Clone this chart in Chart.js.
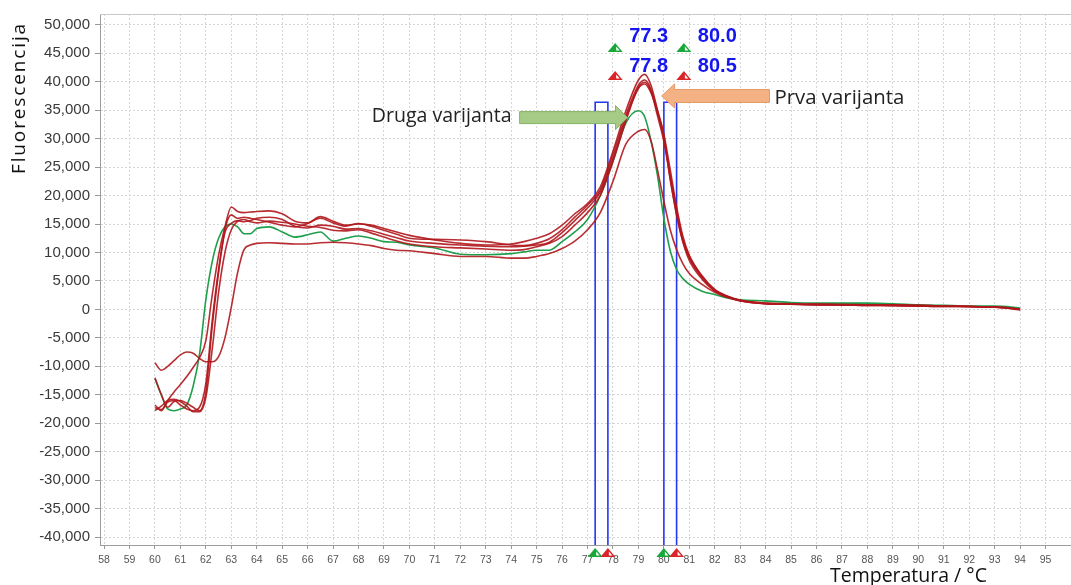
<!DOCTYPE html>
<html lang="hr">
<head>
  <meta charset="UTF-8">
  <title>Krivulje taljenja</title>
  <script src="https://cdn.jsdelivr.net/npm/chart.js"></script>
  <style>
    html, body {
      margin: 0;
      padding: 0;
      background: #fff;
    }
    .wrap {
      position: relative;
      width: 1071px;
      height: 585px;
    }
  </style>
</head>
<body>
  <div class="wrap"><canvas id="melt"></canvas></div>
  <script>
    // temperature points (°C), shared by all curves
    const temps = [
      60, 60.25, 60.5, 60.75, 61, 61.25, 61.5, 61.75,
      62, 62.25, 62.5, 62.75, 63, 63.25, 63.5, 63.75,
      64, 64.5, 65, 65.5, 66, 66.5, 67, 67.5,
      68, 68.5, 69, 69.5, 70, 71, 72, 73,
      74, 74.5, 75, 75.5, 76, 76.5, 77, 77.5,
      78, 78.5, 79, 79.25, 79.5, 79.75, 80, 80.25,
      80.5, 80.75, 81, 81.5, 82, 82.5, 83, 84,
      85, 86, 87, 88, 89, 90, 91, 92,
      93, 93.5, 94
    ];

    // fluorescence of each sample
    const red1 = [
      -16800, -17800, -16000, -14500, -13200, -11800, -10200, -8500,
      -5500, 2500, 9500, 14500, 18000, 17200, 17000, 17100,
      17200, 17300, 16800, 15500, 15200, 16300, 15500, 14800,
      15000, 14800, 14200, 13600, 13000, 12200, 11600, 11300,
      11500, 11900, 12500, 13300, 14800, 16800, 18600, 21500,
      27800, 34800, 40300, 41300, 39300, 35000, 30500, 22800,
      16800, 11900, 9000, 5600, 3300, 2200, 1500, 1000,
      900, 900, 800, 800, 700, 600, 600, 500,
      400, 300, 0
    ];
    const red2 = [
      -12000, -15000, -17200, -16200, -16000, -16500, -17200, -17800,
      -14500, -3000, 6500, 14000, 16600, 16000, 16200, 16000,
      15800, 15300, 14800, 14500, 15100, 16000, 15200, 14600,
      15100, 14600, 13900, 13200, 12500, 12300, 12200, 11900,
      11300, 11200, 11600, 12400, 14000, 16200, 18300, 21000,
      27200, 34000, 39400, 40300, 38600, 34600, 30000, 23500,
      17500, 12300, 9300, 5800, 3400, 2300, 1600, 1100,
      900, 900, 800, 800, 700, 700, 600, 500,
      400, 300, 0
    ];
    const red3 = [
      -17300, -17600, -16300, -16000, -16800, -17500, -17800, -17200,
      -13000, -2000, 7000, 13500, 15100, 15600, 15400, 15600,
      16000, 16200, 15800, 14600, 14300, 14800, 14600, 14100,
      14200, 13800, 13200, 12600, 12000, 11600, 11300, 11100,
      11000, 11100, 11300, 11800, 13500, 15600, 17800, 20600,
      26500, 33500, 38800, 39600, 38000, 34800, 30800, 24500,
      18000, 12800, 9500, 5900, 3500, 2300, 1600, 1100,
      1000, 900, 900, 800, 800, 700, 600, 500,
      400, 300, 0
    ];
    const red4 = [
      -17800, -17000, -16000, -15800, -16200, -17000, -18000, -18000,
      -15500, -7000, 3000, 10000, 14000, 15500, 15800, 15400,
      15200, 15500, 15300, 15000, 14600, 14400, 13900, 13800,
      14000, 13400, 12700, 12000, 11500, 11000, 10800, 10600,
      10400, 10500, 11000, 11600, 12800, 14800, 17000, 20000,
      26000, 33000, 39000, 39900, 38200, 34000, 29500, 23000,
      16500, 11800, 8600, 5300, 3200, 2200, 1500, 1000,
      900, 800, 800, 700, 700, 600, 500, 500,
      400, 200, -100
    ];
    const red5 = [
      -9400, -10700, -10000, -9000, -8000, -7500, -7700, -8600,
      -9200, -9200, -8300, -5000, 400, 6500, 10500, 11300,
      11600, 11700, 11600, 11500, 11500, 11700, 11800, 11700,
      11500, 11200, 10700, 10400, 10300, 9800, 9300, 9300,
      9000, 9000, 9300, 9800, 10700, 12000, 14000, 17000,
      22500, 29000, 31300, 31600, 29500, 24500, 19000, 14000,
      10500, 8000, 6300, 4400, 3000, 2100, 1500, 1000,
      900, 800, 800, 700, 700, 600, 500, 500,
      400, 300, 0
    ];
    const green1 = [
      -12200, -15000, -17500, -17800, -17500, -16800, -13500, -7900,
      1700, 8400, 12500, 14500, 15000, 14500, 13300, 13300,
      14200, 14500, 13600, 12700, 13100, 13600, 12000, 12500,
      12900, 12500, 11900, 11800, 11300, 10800, 9700, 9600,
      9800, 10100, 10400, 10400, 11900, 13600, 15800, 20000,
      26000, 32700, 34900, 33800, 29500, 23500, 16000, 10300,
      7000, 5400, 4400, 3200, 2600, 2000, 1700, 1500,
      1200, 1100, 1100, 1100, 1000, 800, 700, 600,
      600, 500, 200
    ];

    // melt peak markers (low / high edge of each window)
    const markerLow = [77.3, 80.0];
    const markerHigh = [77.8, 80.5];
    const markerTop = 36400;

    const xTicks = [58, 59, 60, 61, 62, 63, 64, 65, 66, 67, 68, 69, 70, 71, 72, 73, 74, 75, 76,
                    77, 78, 79, 80, 81, 82, 83, 84, 85, 86, 87, 88, 89, 90, 91, 92, 93, 94, 95];
    const yTicks = [-40000, -35000, -30000, -25000, -20000, -15000, -10000, -5000, 0,
                    5000, 10000, 15000, 20000, 25000, 30000, 35000, 40000, 45000, 50000];

    const xMin = 57.84, xMax = 96;
    const yMin = -41400, yMax = 51900;

    const RED = 'rgba(176, 22, 28, 0.9)';
    const GREEN = '#1f9e4c';
    const BLUE = '#2337f2';

    function series(values) {
      return temps.map((t, i) => ({ x: t, y: values[i] }));
    }

    function curve(values, color) {
      return {
        data: series(values),
        borderColor: color,
        borderWidth: 1.6,
        pointRadius: 0,
        cubicInterpolationMode: 'monotone',
        fill: false
      };
    }

    function windowBox(i) {
      return {
        data: [
          { x: markerLow[i], y: yMin },
          { x: markerLow[i], y: markerTop },
          { x: markerHigh[i], y: markerTop },
          { x: markerHigh[i], y: yMin }
        ],
        borderColor: BLUE,
        borderWidth: 1.6,
        pointRadius: 0,
        tension: 0,
        fill: false
      };
    }

    // annotation anchors (data units)
    const arrows = {
      druga: { from: 74.33, to: 78.57, at: 33700, fill: '#a5cb86', stroke: '#86b466', text: 'Druga varijanta' },
      prva: { from: 84.15, to: 79.91, at: 37500, fill: '#f4b183', stroke: '#e59a68', text: 'Prva varijanta' }
    };

    function fitSize(ctx, text, family, width, weight) {
      ctx.font = (weight || '') + ' 20px ' + family;
      return 20 * width / ctx.measureText(text).width;
    }

    // fixed size, stretch with letter spacing to the wanted width
    function spaced(ctx, text, size, family, width) {
      ctx.font = size + 'px ' + family;
      ctx.letterSpacing = '0px';
      const w = ctx.measureText(text).width;
      ctx.letterSpacing = Math.max(0, (width - w) / text.length) + 'px';
    }

    function marker(ctx, cx, baseY, w, h, color) {
      ctx.beginPath();
      ctx.moveTo(cx - w / 2, baseY);
      ctx.lineTo(cx + w / 2, baseY);
      ctx.lineTo(cx, baseY - h);
      ctx.closePath();
      ctx.fillStyle = color;
      ctx.fill();
      ctx.beginPath();
      ctx.moveTo(cx + 1, baseY - 1.5);
      ctx.lineTo(cx + w / 2 - 3, baseY - 1.5);
      ctx.lineTo(cx + 1, baseY - h + 3.5);
      ctx.closePath();
      ctx.fillStyle = '#fff';
      ctx.fill();
    }

    function arrow(ctx, tailX, tipX, cy, bodyHalf, headHalf, headLen, fill, stroke) {
      const dir = Math.sign(tipX - tailX);
      const baseX = tipX - dir * headLen;
      ctx.beginPath();
      ctx.moveTo(tailX, cy - bodyHalf);
      ctx.lineTo(baseX, cy - bodyHalf);
      ctx.lineTo(baseX, cy - headHalf);
      ctx.lineTo(tipX, cy);
      ctx.lineTo(baseX, cy + headHalf);
      ctx.lineTo(baseX, cy + bodyHalf);
      ctx.lineTo(tailX, cy + bodyHalf);
      ctx.closePath();
      ctx.fillStyle = fill;
      ctx.fill();
      ctx.strokeStyle = stroke;
      ctx.lineWidth = 1;
      ctx.stroke();
    }

    const meltNotes = {
      id: 'meltNotes',
      afterDraw(chart) {
        const { ctx, chartArea: area, scales: { x, y } } = chart;
        ctx.save();

        // top frame
        ctx.strokeStyle = '#c8c8c8';
        ctx.lineWidth = 1;
        ctx.beginPath();
        ctx.moveTo(area.left, area.top + 0.5);
        ctx.lineTo(area.right, area.top + 0.5);
        ctx.stroke();

        // peak window labels and handles
        markerLow.forEach((lo, i) => {
          const hi = markerHigh[i];
          const cx = x.getPixelForValue(lo) + 20;
          marker(ctx, cx, 52, 15, 9, '#18a83a');
          marker(ctx, cx, 80, 15, 9, '#d9242a');
          ctx.fillStyle = '#1515f0';
          ctx.font = 'bold 20px "Liberation Sans"';
          ctx.textAlign = 'left';
          ctx.textBaseline = 'alphabetic';
          ctx.fillText(lo.toFixed(1), cx + 14, 42);
          ctx.fillText(hi.toFixed(1), cx + 14, 72);
          marker(ctx, x.getPixelForValue(lo), area.bottom + 12, 15, 9, '#18a83a');
          marker(ctx, x.getPixelForValue(hi), area.bottom + 12, 15, 9, '#d9242a');
        });

        // arrows with their captions
        const family = '"Open Sans"';
        const d = arrows.druga;
        const dTail = x.getPixelForValue(d.from);
        const dY = y.getPixelForValue(d.at);
        arrow(ctx, dTail, x.getPixelForValue(d.to), dY, 6, 12, 12, d.fill, d.stroke);
        ctx.fillStyle = '#222';
        ctx.font = fitSize(ctx, d.text, family, 140) + 'px ' + family;
        ctx.textAlign = 'right';
        ctx.textBaseline = 'middle';
        ctx.fillText(d.text, dTail - 8, dY - 1);

        const p = arrows.prva;
        const pTail = x.getPixelForValue(p.from);
        const pY = y.getPixelForValue(p.at);
        arrow(ctx, pTail, x.getPixelForValue(p.to), pY, 6.5, 12, 13, p.fill, p.stroke);
        ctx.fillStyle = '#222';
        ctx.font = fitSize(ctx, p.text, family, 130) + 'px ' + family;
        ctx.textAlign = 'left';
        ctx.fillText(p.text, pTail + 5, pY + 2);

        // axis titles
        ctx.fillStyle = '#111';
        ctx.font = fitSize(ctx, 'Temperatura / °C', family, 157) + 'px ' + family;
        ctx.textAlign = 'left';
        ctx.textBaseline = 'alphabetic';
        ctx.fillText('Temperatura / °C', 830, 582);

        ctx.translate(25, 98);
        ctx.rotate(-Math.PI / 2);
        spaced(ctx, 'Fluorescencija', 19, family, 152);
        ctx.textAlign = 'center';
        ctx.fillText('Fluorescencija', 0, 0);
        ctx.letterSpacing = '0px';

        ctx.restore();
      }
    };

    new Chart(document.getElementById('melt'), {
      type: 'line',
      data: {
        datasets: [
          curve(red1, RED),
          curve(red2, RED),
          curve(red3, RED),
          curve(red4, RED),
          curve(red5, RED),
          curve(green1, GREEN),
          windowBox(0),
          windowBox(1)
        ]
      },
      options: {
        responsive: true,
        maintainAspectRatio: false,
        animation: false,
        layout: { padding: { top: 11, right: 0, left: 0, bottom: 0 } },
        plugins: {
          legend: { display: false },
          tooltip: { enabled: false }
        },
        scales: {
          x: {
            type: 'linear',
            min: xMin,
            max: xMax,
            afterBuildTicks: s => { s.ticks = xTicks.map(v => ({ value: v })); },
            afterFit: s => { s.height = 40; },
            grid: { color: '#d6d6d6', tickLength: 4, tickColor: '#999' },
            border: { color: '#9c9c9c', dash: [2, 2] },
            ticks: {
              autoSkip: false,
              maxRotation: 0,
              padding: 5,
              color: '#555',
              font: { family: 'Liberation Sans', size: 10.5 }
            }
          },
          y: {
            min: yMin,
            max: yMax,
            afterBuildTicks: s => { s.ticks = yTicks.map(v => ({ value: v })); },
            afterFit: s => { s.width = 100; },
            grid: { color: '#d6d6d6', tickLength: 5, tickColor: '#999' },
            border: { color: '#9c9c9c', dash: [2, 2] },
            ticks: {
              padding: 5,
              color: '#3a3a3a',
              font: { family: 'Liberation Sans', size: 15 },
              callback: v => v.toLocaleString('en-US')
            }
          }
        }
      },
      plugins: [meltNotes]
    });
  </script>
</body>
</html>
